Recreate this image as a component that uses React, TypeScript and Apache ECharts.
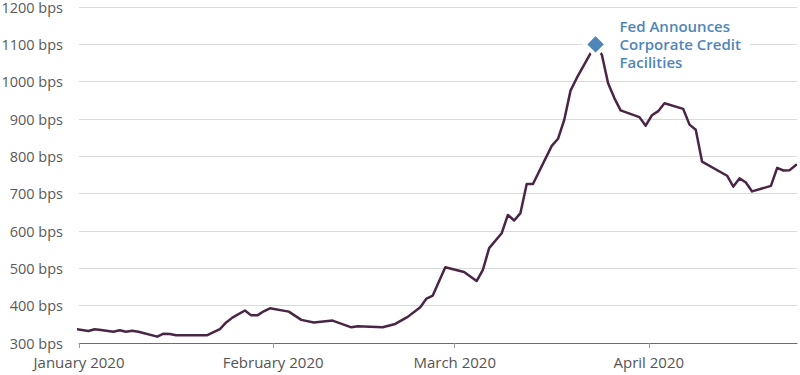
import React, { useEffect, useRef } from "react";
import * as echarts from "echarts";

const dates: string[] = [
  "2019-12-31", "2020-01-02", "2020-01-03", "2020-01-04", "2020-01-06", "2020-01-07",
  "2020-01-08", "2020-01-09", "2020-01-10", "2020-01-13", "2020-01-14", "2020-01-15",
  "2020-01-16", "2020-01-21", "2020-01-23", "2020-01-24", "2020-01-25", "2020-01-27",
  "2020-01-28", "2020-01-29", "2020-01-30", "2020-01-31", "2020-02-03", "2020-02-05",
  "2020-02-07", "2020-02-10", "2020-02-13", "2020-02-14", "2020-02-18", "2020-02-20",
  "2020-02-22", "2020-02-24", "2020-02-25", "2020-02-26", "2020-02-28", "2020-03-02",
  "2020-03-04", "2020-03-05", "2020-03-06", "2020-03-08", "2020-03-09", "2020-03-10",
  "2020-03-11", "2020-03-12", "2020-03-13", "2020-03-16", "2020-03-17", "2020-03-18",
  "2020-03-19", "2020-03-20", "2020-03-23", "2020-03-24", "2020-03-25", "2020-03-26",
  "2020-03-27", "2020-03-30", "2020-03-31", "2020-04-01", "2020-04-02", "2020-04-03",
  "2020-04-06", "2020-04-07", "2020-04-08", "2020-04-09", "2020-04-13", "2020-04-14",
  "2020-04-15", "2020-04-16", "2020-04-17", "2020-04-20", "2020-04-21", "2020-04-22",
  "2020-04-23", "2020-04-24",
];

const spreadBps: number[] = [
  337, 332, 337, 335, 330, 334,
  330, 333, 330, 317, 325, 324,
  321, 321, 337, 355, 368, 387,
  374, 374, 385, 393, 384, 362,
  355, 360, 342, 345, 342, 351,
  370, 396, 419, 427, 503, 490,
  466, 496, 554, 594, 643, 628,
  648, 726, 726, 828, 847, 898,
  976, 1010, 1100, 1072, 996, 956,
  923, 905, 882, 910, 921, 942,
  927, 885, 871, 786, 748, 719,
  741, 730, 706, 721, 769, 762,
  763, 777,
];

const eventDate = "2020-03-23";
const eventValue = 1100;
const eventLabel = ["Fed Announces", "Corporate Credit", "Facilities"];

const monthLabels: string[] = ["January 2020", "February 2020", "March 2020", "April 2020"];
// month boundaries as drawn in the reference (between last day of previous month and the 1st)
const monthTickDates: string[] = ["2019-12-31T12:00", "2020-01-31T12:00", "2020-02-29T12:00", "2020-03-31T12:00"];
const axisStart = "2019-12-31T12:00";
const axisEnd = "2020-04-24T04:00";

const yMin = 300;
const yMax = 1200;
const yStep = 100;

function ts(s: string): number {
  const [d, t] = s.split("T");
  const [y, m, dd] = d.split("-").map(Number);
  const [hh, mm] = (t || "00:00").split(":").map(Number);
  return new Date(y, m - 1, dd, hh, mm).getTime();
}

export default function App() {
  const ref = useRef<HTMLDivElement>(null);

  useEffect(() => {
    document.body.style.margin = "0";
    if (!ref.current) return;
    const chart = echarts.init(ref.current, null, { renderer: "svg" });
    const font = "'Open Sans', 'Noto Sans', sans-serif";
    const lineData = dates.map((d, i) => [ts(d), spreadBps[i]]);
    const monthTicks = monthTickDates.map(ts);

    chart.setOption({
      animation: false,
      backgroundColor: "#ffffff",
      grid: {
        left: 79,
        right: 3,
        top: 7,
        bottom: 32,
        containLabel: false,
        outerBoundsMode: "none",
      },
      xAxis: {
        type: "value",
        min: ts(axisStart),
        max: ts(axisEnd),
        axisLine: { show: true, lineStyle: { color: "#6b6b6b", width: 1 } },
        axisTick: {
          show: true,
          length: 5,
          customValues: monthTicks,
          lineStyle: { color: "#9a9a9a", width: 1 },
        },
        axisLabel: {
          show: true,
          customValues: monthTicks,
          margin: 11,
          fontSize: 15,
          color: "#555555",
          fontFamily: font,
          formatter: (v: number) => {
            let best = 0;
            let bd = Infinity;
            monthTicks.forEach((t, i) => {
              const dd = Math.abs(t - v);
              if (dd < bd) { bd = dd; best = i; }
            });
            return monthLabels[best];
          },
        },
        splitLine: { show: false },
      },
      yAxis: {
        type: "value",
        min: yMin,
        max: yMax,
        interval: yStep,
        axisLine: { show: false },
        axisTick: { show: false },
        axisLabel: {
          formatter: (v: number) => `${v} bps`,
          fontSize: 14.5,
          color: "#5a5a5a",
          margin: 16,
          fontFamily: font,
        },
        splitLine: { show: true, lineStyle: { color: "#dadada", width: 1 } },
      },
      series: [
        {
          type: "line",
          data: lineData,
          showSymbol: false,
          symbol: "none",
          clip: false,
          lineStyle: { color: "#4a2546", width: 2.5, join: "round", cap: "round" },
          z: 2,
        },
        {
          type: "scatter",
          data: [[ts(eventDate), eventValue]],
          symbol: "diamond",
          symbolSize: 22,
          clip: false,
          itemStyle: { color: "#4f86b9", borderColor: "#ffffff", borderWidth: 4, opacity: 1 },
          z: 5,
          label: {
            show: true,
            position: "right",
            distance: 0,
            formatter: eventLabel.join("\n"),
            backgroundColor: "#ffffff",
            padding: [2, 9, 2, 11],
            fontSize: 15,
            fontWeight: 600,
            lineHeight: 18,
            color: "#4f86b9",
            fontFamily: font,
          },
        },
      ],
    });

    return () => chart.dispose();
  }, []);

  return <div ref={ref} style={{ width: 800, height: 375 }} />;
}
